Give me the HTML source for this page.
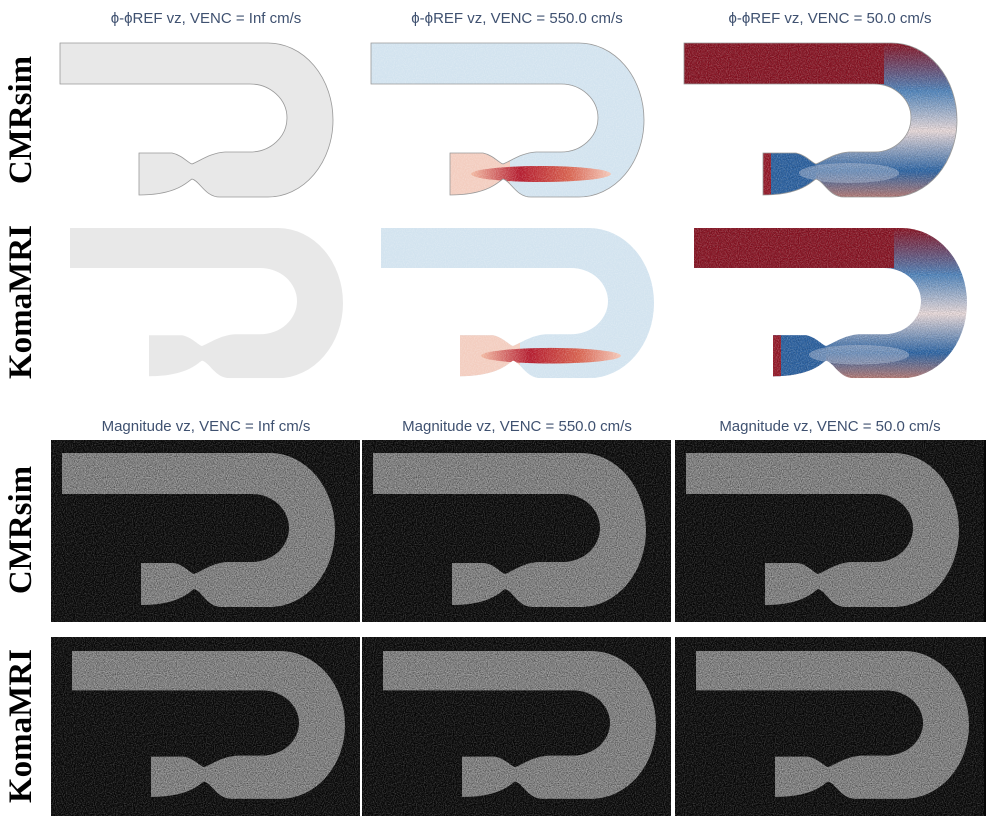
<!DOCTYPE html>
<html><head><meta charset="utf-8"><style>
body{margin:0;background:#fff;width:986px;height:820px;overflow:hidden}
svg{display:block}
.t{font-family:"Liberation Sans",sans-serif;font-size:15px;fill:#3f5170}
.lab{font-family:"Liberation Serif",serif;font-size:33px;fill:#000;font-weight:bold}
</style></head><body>
<svg id="fig" width="986" height="820" viewBox="0 0 986 820" xmlns="http://www.w3.org/2000/svg">
<defs>
<path id="shape" d="M0,0 H208 A65,77 0 0 1 208,154 H160 C145,154 140,138 132,136 C128,138 118,152 79,152 V110 H112 C122,112 128,120 132,121 C140,118 150,110 165,109 H190 A37,34 0 0 0 190,41 H0 Z"/>
<clipPath id="clipShape"><use href="#shape"/></clipPath>
<filter id="noise" x="0" y="0" width="100%" height="100%">
<feTurbulence type="fractalNoise" baseFrequency="0.9" numOctaves="1" seed="3"/>
<feColorMatrix type="matrix" values="0 0 0 0 1  0 0 0 0 1  0 0 0 0 1  1.2 0 0 0 -0.45"/>
</filter>
<filter id="noiseDark" x="0" y="0" width="100%" height="100%">
<feTurbulence type="fractalNoise" baseFrequency="0.9" numOctaves="1" seed="7"/>
<feColorMatrix type="matrix" values="0 0 0 0 0  0 0 0 0 0  0 0 0 0 0  1.2 0 0 0 -0.4"/>
</filter>
<linearGradient id="streak" x1="0" y1="0" x2="1" y2="0">
<stop offset="0" stop-color="#f2b8a0"/><stop offset="0.35" stop-color="#b2182b"/><stop offset="0.7" stop-color="#d6604d"/><stop offset="1" stop-color="#f4c8b8"/>
</linearGradient>
<linearGradient id="arc3" x1="0" y1="0" x2="0" y2="1">
<stop offset="0" stop-color="#8a1020"/><stop offset="0.3" stop-color="#4f86c0"/><stop offset="0.55" stop-color="#f0e0e0"/><stop offset="0.8" stop-color="#2a65a8"/><stop offset="1" stop-color="#d8806a"/>
</linearGradient>
</defs>
<g id="panels"></g>
<text class="lab" transform="translate(31,120) rotate(-90)" text-anchor="middle">CMRsim</text>
<text class="lab" transform="translate(31,302) rotate(-90)" text-anchor="middle">KomaMRI</text>
<text class="lab" transform="translate(31,530) rotate(-90)" text-anchor="middle">CMRsim</text>
<text class="lab" transform="translate(31,726) rotate(-90)" text-anchor="middle">KomaMRI</text>
</svg>
<script>
const phaseTitles=["ϕ-ϕREF vz, VENC = Inf cm/s","ϕ-ϕREF vz, VENC = 550.0 cm/s","ϕ-ϕREF vz, VENC = 50.0 cm/s"];
const magTitles=["Magnitude vz, VENC = Inf cm/s","Magnitude vz, VENC = 550.0 cm/s","Magnitude vz, VENC = 50.0 cm/s"];
const colX=[51,362,675];
const NS="http://www.w3.org/2000/svg";
const g=document.getElementById('panels');
function mk(tag,attrs,parent){const e=document.createElementNS(NS,tag);for(const k in attrs)e.setAttribute(k,attrs[k]);(parent||g).appendChild(e);return e;}
for(let c=0;c<3;c++){
 const t=mk('text',{class:'t',x:colX[c]+155,y:23,'text-anchor':'middle'});t.textContent=phaseTitles[c];
 
 
 const t2=mk('text',{class:'t',x:colX[c]+155,y:431,'text-anchor':'middle'});t2.textContent=magTitles[c];
 
 
}
const rows=[{y:43,dx:9,sy:1,kind:'phase'},{y:228,dx:19,sy:0.975,kind:'phase'},{y:453,dx:11,sy:1,kind:'mag',py:440,ph:182},{y:651,dx:21,sy:0.96,kind:'mag',py:637,ph:179}];
rows.forEach((r,ri)=>{
 for(let c=0;c<3;c++){
  const grp=mk('g',{});
  
  
  if(r.kind==='mag'){
   mk('rect',{x:colX[c],y:r.py,width:c==2?311:309,height:r.ph,fill:'#060606'},grp);
   mk('rect',{x:colX[c],y:r.py,width:309,height:r.ph,filter:'url(#noise)',opacity:0.45},grp);
  }
  const sg=mk('g',{transform:`translate(${colX[c]+r.dx},${r.y}) scale(1,${r.sy})`},grp);
  const cl=mk('g',{'clip-path':'url(#clipShape)'},sg);
  if(r.kind==='mag'){
   mk('rect',{x:0,y:0,width:280,height:160,fill:'#8a8a8a'},cl);
   mk('rect',{x:0,y:0,width:280,height:160,filter:'url(#noiseDark)',opacity:0.9},cl);
   mk('rect',{x:0,y:0,width:280,height:160,filter:'url(#noise)',opacity:0.7},cl);
  } else if(c===0){
   mk('rect',{x:0,y:0,width:280,height:160,fill:'#e8e8e8'},cl);
  } else if(c===1){
   mk('rect',{x:0,y:0,width:280,height:160,fill:'#d2e3ef'},cl);
   mk('rect',{x:79,y:108,width:60,height:46,fill:'#f3cdbf'},cl);
   mk('ellipse',{cx:170,cy:131,rx:70,ry:8,fill:'url(#streak)'},cl);
   mk('rect',{x:0,y:0,width:280,height:160,filter:'url(#noise)',opacity:0.5},cl);
  } else {
   mk('rect',{x:0,y:0,width:280,height:160,fill:'url(#arc3)'},cl);
   mk('rect',{x:0,y:0,width:200,height:41,fill:'#8a1222'},cl);
   mk('rect',{x:79,y:108,width:53,height:46,fill:'#2a62a4'},cl);
   mk('rect',{x:79,y:108,width:8,height:46,fill:'#9a1828'},cl);
   mk('ellipse',{cx:165,cy:130,rx:50,ry:10,fill:'#b8c4dc',opacity:0.5},cl);
   mk('rect',{x:0,y:0,width:280,height:160,filter:'url(#noise)',opacity:0.55},cl);
   mk('rect',{x:0,y:0,width:280,height:160,filter:'url(#noiseDark)',opacity:0.35},cl);
  }
  if(r.kind==='phase'&&ri===0) mk('use',{href:'#shape',fill:'none',stroke:'#999','stroke-width':0.8},sg);
 }
});
</script>
</body></html>
